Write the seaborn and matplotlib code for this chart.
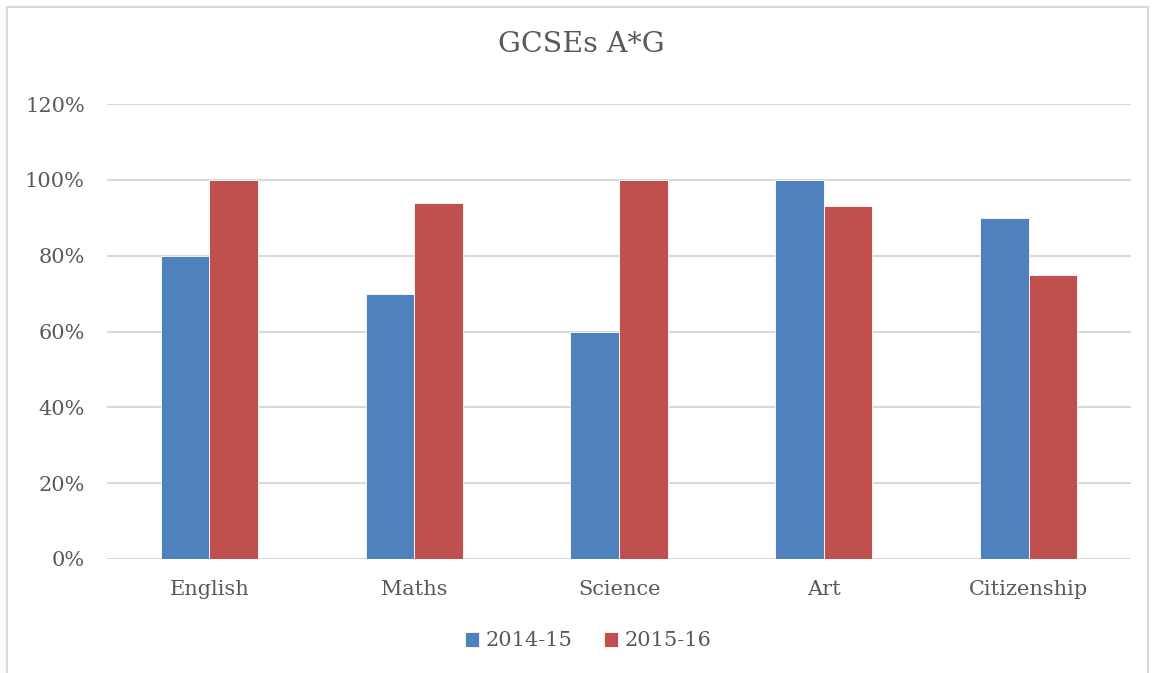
import matplotlib
matplotlib.use("Agg")
import matplotlib.pyplot as plt
from matplotlib.patches import Rectangle
from matplotlib.ticker import PercentFormatter
import seaborn as sns
import pandas as pd

# data
subjects = ["English", "Maths", "Science", "Art", "Citizenship"]
years = ["2014-15", "2015-16"]
y2014_15 = [0.80, 0.70, 0.60, 1.00, 0.90]
y2015_16 = [1.00, 0.94, 1.00, 0.93, 0.75]

df = pd.DataFrame({
    "Subject": subjects * 2,
    "Year": [years[0]] * len(subjects) + [years[1]] * len(subjects),
    "Value": y2014_15 + y2015_16,
})

sns.set_style("white")
plt.rcParams["font.family"] = ["DejaVu Serif"]
txt = "#595959"
grid = "#d9d9d9"

fig = plt.figure(figsize=(11.54, 6.73), dpi=100)
ax = fig.add_axes([107 / 1154, 1 - 559 / 673, (1131 - 107) / 1154, (559 - 104) / 673])

sns.barplot(data=df, x="Subject", y="Value", hue="Year", order=subjects,
            hue_order=years, palette=["#4F81BD", "#C0504D"], width=0.474,
            saturation=1, edgecolor="white", linewidth=0.6, ax=ax, zorder=3)

ax.set_ylim(0, 1.2)
ax.set_xlim(-0.5, 4.5)
ax.set_yticks([0, 0.2, 0.4, 0.6, 0.8, 1.0, 1.2])
ax.yaxis.set_major_formatter(PercentFormatter(1.0, decimals=0))
ax.yaxis.grid(True, color=grid, linewidth=1.5, zorder=0)
ax.set_axisbelow(True)
for s in ax.spines.values():
    s.set_visible(False)
ax.tick_params(axis="both", length=0, labelsize=15, colors=txt)
ax.tick_params(axis="y", pad=16)
ax.tick_params(axis="x", pad=15)
ax.set_xlabel("")
ax.set_ylabel("")

fig.text(581 / 1154, 1 - 45 / 673, "GCSEs A*G", fontsize=20.5, color=txt,
         ha="center", va="center")

ax.legend_.remove()
handles, labels = ax.get_legend_handles_labels()
leg = fig.legend(handles, labels, loc="center", bbox_to_anchor=(588 / 1154, 1 - 641 / 673),
                 ncol=2, frameon=False, fontsize=15, handlelength=0.7, handleheight=0.7,
                 handletextpad=0.3, columnspacing=1.5)
for t in leg.get_texts():
    t.set_color(txt)

# outer chart border
fig.patches.append(Rectangle((7 / 1154, -0.05), (1148 - 7) / 1154, 1.05 - 7 / 673,
                             transform=fig.transFigure, fill=False,
                             edgecolor=grid, linewidth=1.5))

fig.savefig("out.png", dpi=100)
